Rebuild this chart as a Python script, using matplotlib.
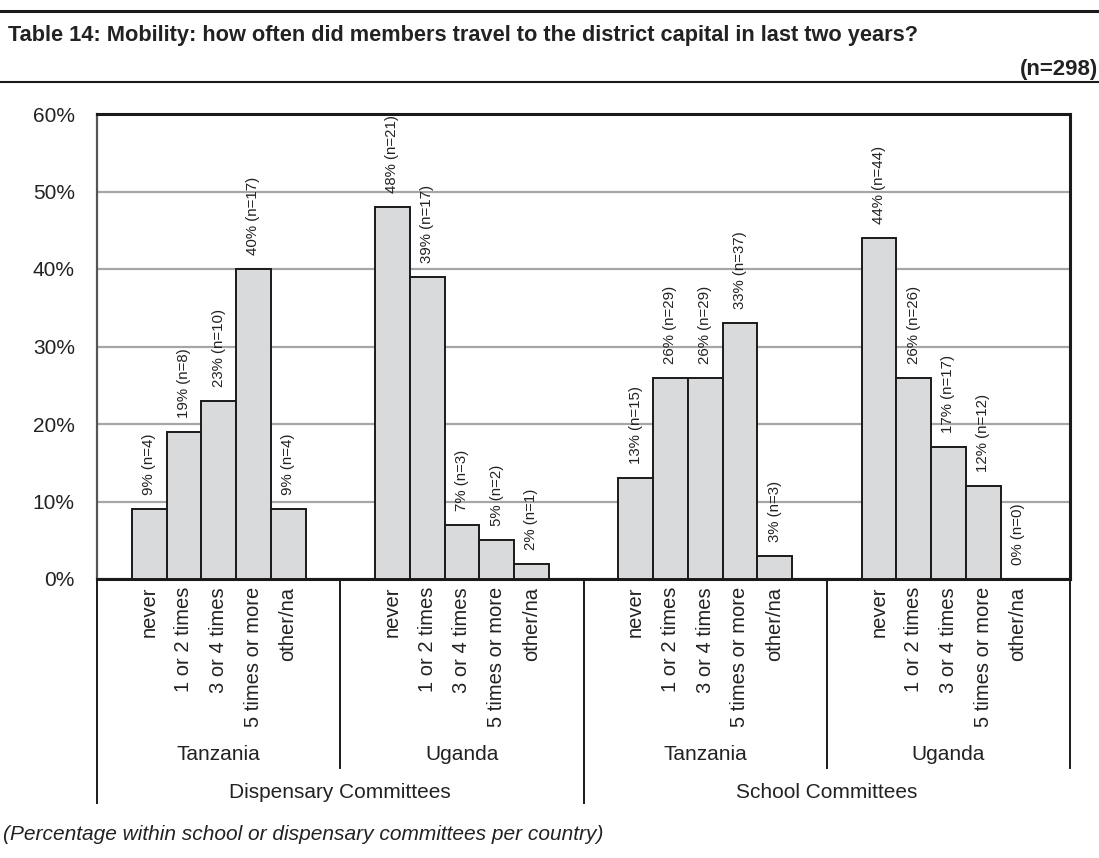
import matplotlib
matplotlib.use('Agg')
import matplotlib.pyplot as plt
from matplotlib.transforms import blended_transform_factory
from matplotlib.lines import Line2D

NARROW = ['Liberation Sans Narrow', 'Liberation Sans', 'DejaVu Sans']
WIDE   = ['Liberation Sans', 'DejaVu Sans']

# ── Data ──────────────────────────────────────────────────────
ANSWERS    = ['never', '1 or 2 times', '3 or 4 times', '5 times or more', 'other/na']
COUNTRIES  = ['Tanzania', 'Uganda', 'Tanzania', 'Uganda']
COMMITTEES = ['Dispensary Committees', 'School Committees']

disp_tz_pct = [9, 19, 23, 40, 9]
disp_tz_n   = [4, 8, 10, 17, 4]
disp_ug_pct = [48, 39, 7, 5, 2]
disp_ug_n   = [21, 17, 3, 2, 1]
sch_tz_pct  = [13, 26, 26, 33, 3]
sch_tz_n    = [15, 29, 29, 37, 3]
sch_ug_pct  = [44, 26, 17, 12, 0]
sch_ug_n    = [44, 26, 17, 12, 0]

groups_pct = [disp_tz_pct, disp_ug_pct, sch_tz_pct, sch_ug_pct]
groups_n   = [disp_tz_n, disp_ug_n, sch_tz_n, sch_ug_n]

SLOTS = 7   # 5 bars + one empty slot on each side

fig = plt.figure(figsize=(10.99, 8.58), dpi=100)
W, H = 1099, 858
ax = fig.add_axes([97 / W, 1 - 579 / H, 973 / W, 465 / H])
trans = blended_transform_factory(ax.transData, ax.transAxes)

# ── Bars ──────────────────────────────────────────────────────
for g, (pcts, ns) in enumerate(zip(groups_pct, groups_n)):
    xs = [g * SLOTS + 1 + j for j in range(len(pcts))]
    ax.bar(xs, pcts, width=1.0, color='#d9dadc', edgecolor='#1a1a1a',
           linewidth=1.4, zorder=3)
    for x, p, n in zip(xs, pcts, ns):
        ax.annotate(f'{p}% (n={n})', (x, p), xytext=(0, 10),
                    textcoords='offset points', rotation=90,
                    ha='center', va='bottom', fontsize=10.8,
                    family=WIDE, color='#222222')
    for x, lab in zip(xs, ANSWERS):
        ax.text(x, -0.017, lab, rotation=90, ha='center', va='top',
                fontsize=14.5, family=WIDE, color='#222222', transform=trans)

ax.set_xlim(-0.5, 4 * SLOTS - 0.5)
ax.set_ylim(0, 60)
ax.set_yticks(range(0, 61, 10))
ax.set_yticklabels([f'{v}%' for v in range(0, 61, 10)], family=NARROW,
                   fontsize=15, color='#222222')
ax.set_xticks([])
ax.tick_params(axis='y', length=0, pad=16)
ax.grid(axis='y', color='#a6a6a6', linewidth=1.6, zorder=0)

ax.spines['top'].set_linewidth(2.2)
ax.spines['right'].set_linewidth(2.2)
ax.spines['bottom'].set_linewidth(2.2)
ax.spines['left'].set_linewidth(1.6)
ax.spines['left'].set_color('#555555')
for s in ['top', 'right', 'bottom']:
    ax.spines[s].set_color('#1a1a1a')

# ── Hierarchical category axis ────────────────────────────────
y_country_end = -0.406
y_comm_end    = -0.481

for g, name in enumerate(COUNTRIES):
    ax.text(g * SLOTS + 3, -0.378, name, ha='center', va='center',
            fontsize=15, family=NARROW, color='#222222', transform=trans)
for c, name in enumerate(COMMITTEES):
    ax.text(c * 2 * SLOTS + SLOTS - 0.5, -0.459, name, ha='center',
            va='center', fontsize=15, family=NARROW, color='#222222',
            transform=trans)

seps = [(-0.5, y_comm_end), (SLOTS - 0.5, y_country_end),
        (2 * SLOTS - 0.5, y_comm_end), (3 * SLOTS - 0.5, y_country_end),
        (4 * SLOTS - 0.5, y_country_end)]
for x, yend in seps:
    ax.add_line(Line2D([x, x], [0, yend], color='#1a1a1a', linewidth=1.4,
                       transform=trans, clip_on=False))

# ── Header and footnote ───────────────────────────────────────
fig.add_artist(Line2D([0, 1], [1 - 11 / H, 1 - 11 / H], color='#1a1a1a',
                      linewidth=2.2))
fig.add_artist(Line2D([0, 1], [1 - 82 / H, 1 - 82 / H], color='#1a1a1a',
                      linewidth=1.5))
fig.text(8 / W, 1 - 36 / H,
         'Table 14: Mobility: how often did members travel to the district capital in last two years?',
         ha='left', va='center', fontsize=15.7, fontweight='bold', family=NARROW,
         color='#222222')
fig.text(1098 / W, 1 - 70 / H, '(n=298)', ha='right', va='center',
         fontsize=16, fontweight='bold', family=NARROW, color='#222222')
fig.text(3 / W, 1 - 834 / H,
         '(Percentage within school or dispensary committees per country)',
         ha='left', va='center', fontsize=15, style='italic', family=NARROW,
         color='#222222')

fig.savefig('out.png', dpi=100)
